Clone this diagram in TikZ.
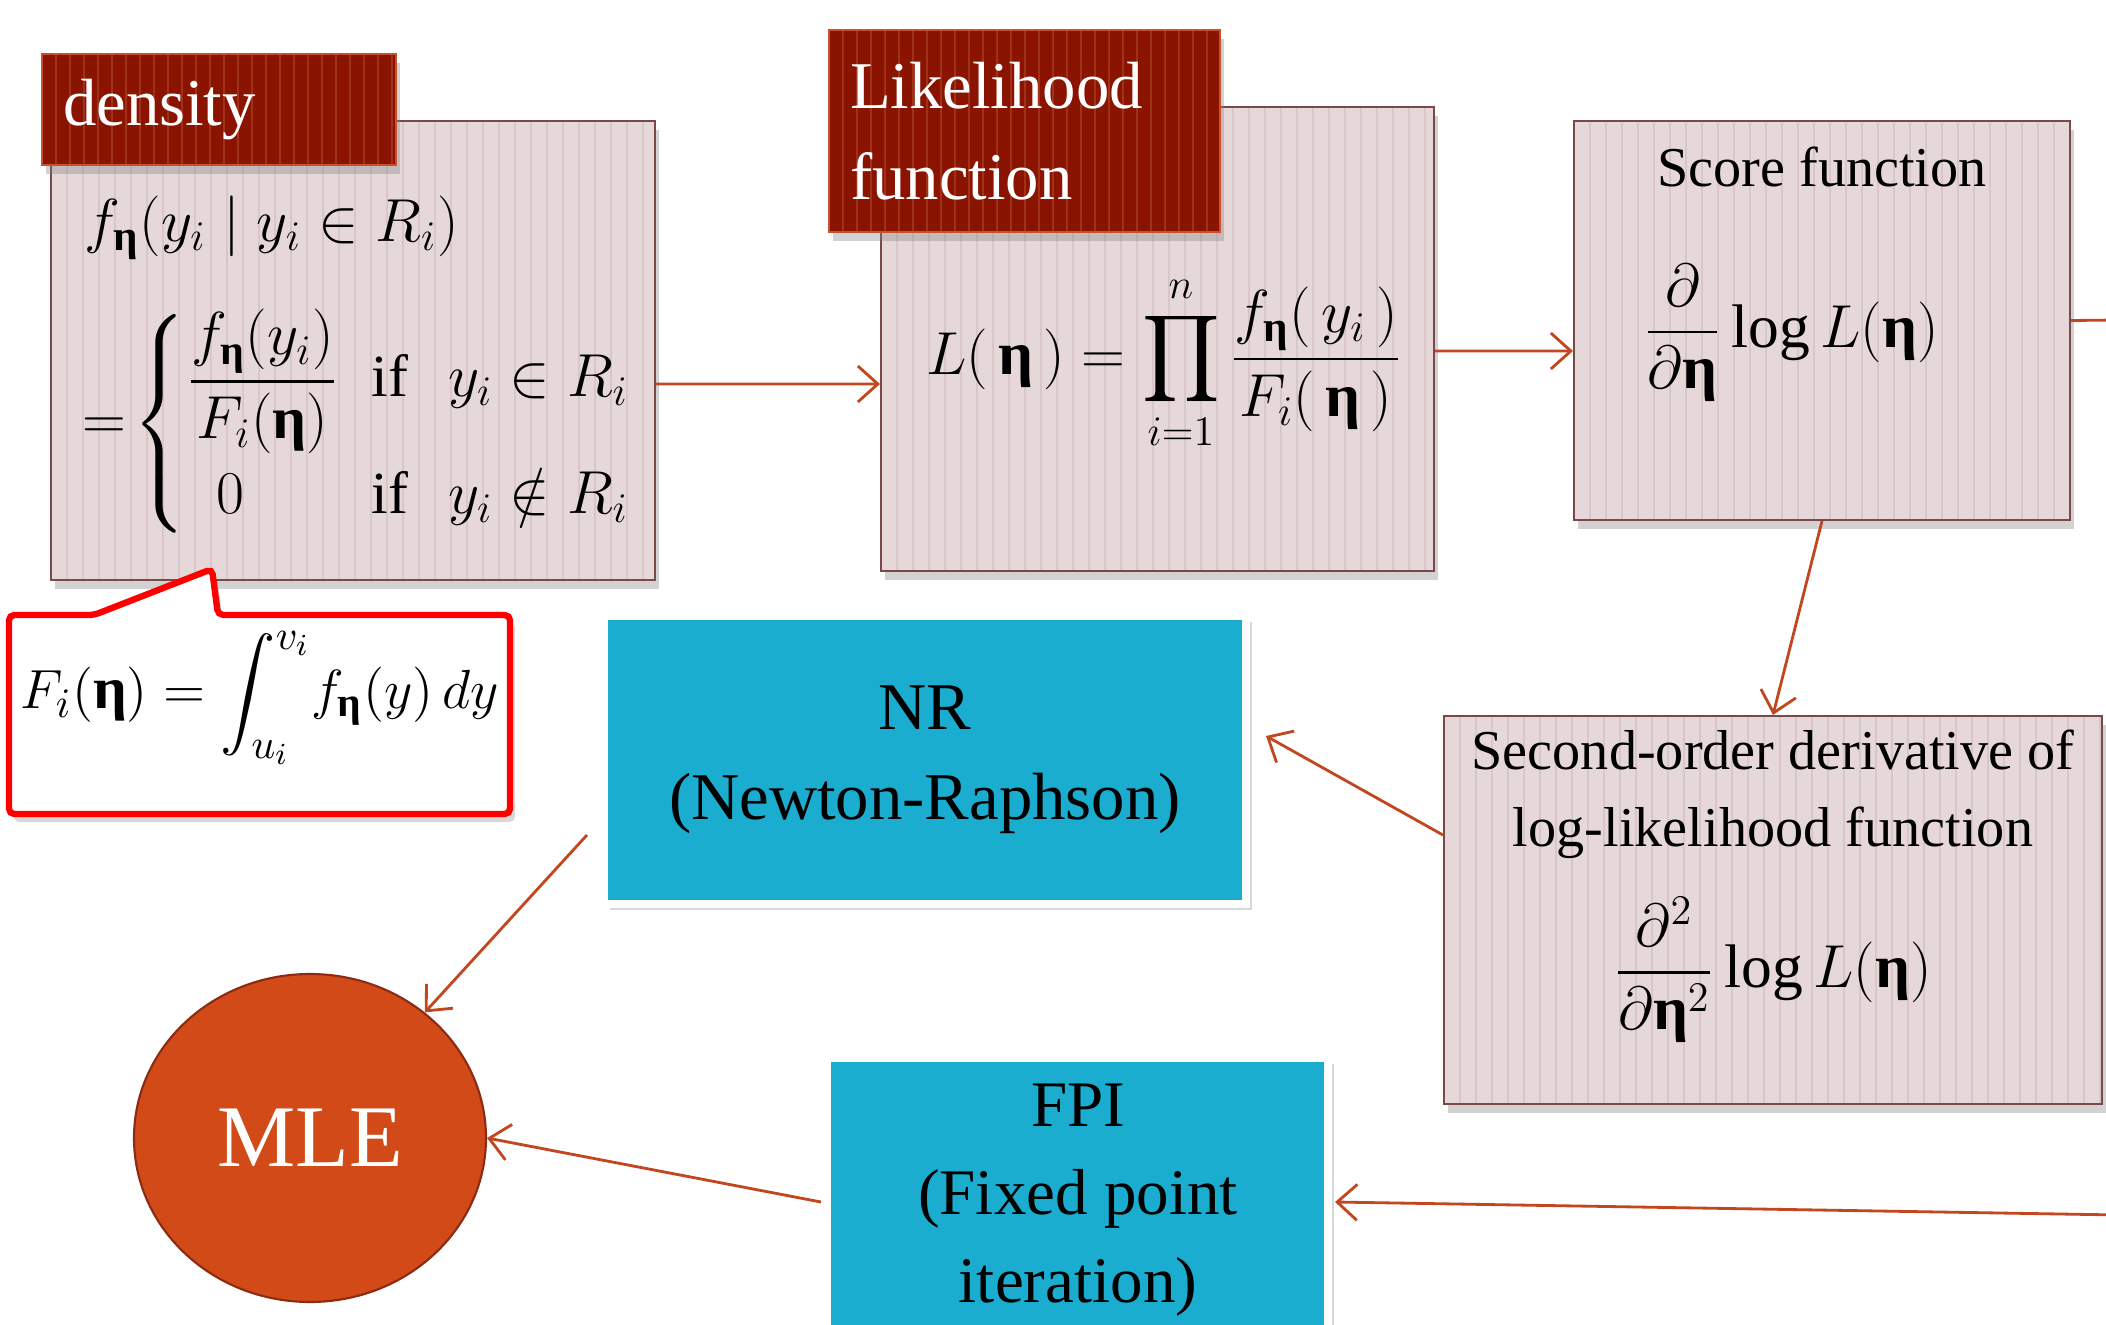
\documentclass[tikz,border=0pt]{standalone}
\usepackage{amsmath}
\usepackage{fontspec}
\setmainfont{Liberation Serif}
\newfontfamily\grkfont{Liberation Serif}
\usetikzlibrary{shapes.geometric,shadows,arrows.meta}

\definecolor{boxfill}{HTML}{E6D8D8}
\definecolor{boxline}{HTML}{7A4848}
\definecolor{stripec}{HTML}{D9C7C7}
\definecolor{headfill}{HTML}{8A1400}
\definecolor{headstripe}{HTML}{A0321A}
\definecolor{headline}{HTML}{C8502A}
\definecolor{arrowc}{HTML}{C2461E}
\definecolor{methblue}{HTML}{1BADD0}
\definecolor{mlefill}{HTML}{D24A18}
\definecolor{mleline}{HTML}{8C2A12}
\definecolor{calloutred}{HTML}{FF0000}

% bold upright eta
\newcommand{\bEta}{\mathord{\text{\grkfont\bfseries η}}}
\newcommand{\fsz}[2]{\fontsize{#1}{#2}\selectfont}

\begin{document}
\begin{tikzpicture}[
  stripebox/.style={draw=boxline, line width=0.6pt, fill=boxfill,
    drop shadow={shadow xshift=0.4mm, shadow yshift=-0.9mm, opacity=0.35},
    path picture={\foreach \k in {0,1.6,...,70}{
      \draw[stripec, line width=0.5pt]
        ([xshift=\k mm]path picture bounding box.south west) --
        ([xshift=\k mm]path picture bounding box.north west);}}},
  headbox/.style={draw=headline, line width=0.6pt, fill=headfill, text=white,
    drop shadow={shadow xshift=0.4mm, shadow yshift=-0.9mm, opacity=0.35},
    align=left, inner xsep=2.1mm, inner ysep=0pt,
    path picture={\foreach \k in {0,1.4,...,45}{
      \draw[headstripe, line width=0.6pt]
        ([xshift=\k mm]path picture bounding box.south west) --
        ([xshift=\k mm]path picture bounding box.north west);}}},
  methbox/.style={draw=white, line width=2.3pt, fill=methblue, align=center,
    drop shadow={shadow xshift=0.6mm, shadow yshift=-0.6mm, opacity=0.3}},
  conn/.style={draw=arrowc, line width=0.8pt,
    -{Straight Barb[length=2mm,width=3.6mm]}},
  plainconn/.style={draw=arrowc, line width=0.8pt},
]
\clip (0,0) rectangle (21.06,-13.25);
\fill[white] (0,0) rectangle (21.06,-13.25);

% density
\node[stripebox, minimum width=6.04cm, minimum height=4.59cm] (dbody) at (3.53,-3.505) {};
\node[headbox, minimum width=3.54cm, minimum height=1.11cm, text width=3.12cm,
      font=\fsz{19}{24}] (dhead) at (2.19,-1.095) {density};

% callout with the normalising integral
\draw[calloutred, line width=1.8pt, fill=white, rounded corners=1.5pt,
      drop shadow={shadow xshift=0.5mm, shadow yshift=-0.8mm, opacity=0.3}]
  (0.09,-6.15) -- (0.94,-6.15) -- (2.12,-5.69) -- (2.18,-6.15) --
  (5.10,-6.15) -- (5.10,-8.14) -- (0.09,-8.14) -- cycle;

% likelihood
\node[stripebox, minimum width=5.53cm, minimum height=4.64cm] (lbody) at (11.575,-3.39) {};
\node[headbox, minimum width=3.91cm, minimum height=2.02cm, text width=3.49cm,
      font=\fsz{19}{26}] (lhead) at (10.245,-1.31) {Likelihood\\function};

% score and second derivative
\node[stripebox, minimum width=4.96cm, minimum height=3.99cm] (score) at (18.22,-3.205) {};
\node[stripebox, minimum width=6.58cm, minimum height=3.88cm] (second) at (17.73,-9.10) {};

% methods
\node[methbox, minimum width=6.42cm, minimum height=2.88cm, font=\fsz{19}{25.5}] (nr)
  at (9.25,-7.60) {NR\\(Newton-Raphson)};
\node[methbox, minimum width=5.01cm, minimum height=3.66cm] (fpi) at (10.775,-12.41) {};
\node[align=center, font=\fsz{18.5}{25}] (fpitext) at (10.78,-12.00)
  {FPI\\(Fixed point\\iteration)};

% MLE
\node[ellipse, fill=mlefill, draw=mleline, line width=0.6pt, text=white,
      minimum width=3.52cm, minimum height=3.28cm, inner sep=0pt,
      font=\fsz{25}{30}] (mle) at (3.10,-11.38) {MLE};

% formulas and captions
\node[anchor=west, font=\fsz{17.5}{22}] (dline) at (0.72,-2.28)
  {$f_{\bEta}(y_i \mid y_i \in R_i)$};
\node[anchor=west, font=\fsz{17}{22}] (dcases) at (0.70,-4.24)
  {$=\!\left\{\renewcommand{\arraystretch}{1.1}\begin{array}{@{}l@{\;\;}l}
     \dfrac{f_{\bEta}(y_i)}{F_i(\bEta)} & \text{if}\enspace\, y_i \in R_i\\[8pt]
     \enspace 0 & \text{if}\enspace\, y_i \notin R_i
   \end{array}\right.$};
\node[font=\fsz{15.5}{20}] (fint) at (2.60,-6.98)
  {\scalebox{1.09}{$\displaystyle F_i(\bEta) = \int_{u_i}^{v_i}\! f_{\bEta}(y)\,dy$}};
\node[font=\fsz{17.5}{22}] (lform) at (11.64,-3.63)
  {$\displaystyle L(\,\bEta\,) = \prod_{i=1}^{n}\frac{f_{\bEta}(\,y_i\,)}{F_i(\,\bEta\,)}$};
\node[font=\fsz{16}{20}] (scoretext) at (18.22,-1.67) {Score function};
\node[font=\fsz{17.5}{22}] (sform) at (17.91,-3.33)
  {$\displaystyle\frac{\partial}{\partial\bEta}\log L(\bEta)$};
\node[align=center, font=\fsz{16}{22}] (secondtext) at (17.73,-7.945)
  {Second-order derivative of\\log-likelihood function};
\node[font=\fsz{17.5}{22}] (secform) at (17.73,-9.70)
  {$\displaystyle\frac{\partial^2}{\partial\bEta^2}\log L(\bEta)$};

% connectors
\coordinate (offR) at (21.2,-3.20);
\coordinate (offF) at (21.2,-12.15);
\draw[conn] ([yshift=-3.35mm]dbody.east) -- ([yshift=-4.5mm]lbody.west);
\draw[conn] ([yshift=-1.2mm]lbody.east) -- ([yshift=-3.05mm]score.west);
\draw[plainconn] (score.east) -- (offR);
\draw[conn] (score.south) -- (second.north);
\draw[conn] ([yshift=7.5mm]second.west) -- ([xshift=1.6mm,yshift=2.4mm]nr.east);
\draw[conn] ([xshift=-1.3mm,yshift=-7.5mm]nr.west) -- (mle);
\draw[conn] ([xshift=-0.2mm,yshift=3.9mm]fpi.west) -- (mle.east);
\draw[conn] (offF) -- ([xshift=0.3mm,yshift=3.9mm]fpi.east);
\end{tikzpicture}
\end{document}
